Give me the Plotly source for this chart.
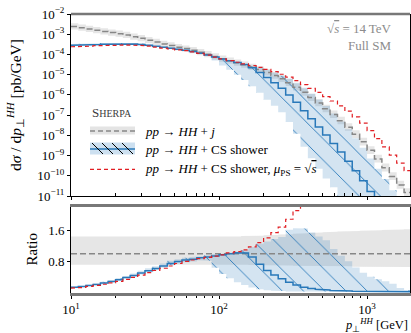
import plotly.graph_objects as go

# ---------------------------------------------------------------------------
# Histogram binning in p_T^HH [GeV]
# ---------------------------------------------------------------------------
pt_edges = [10.0, 11.2, 12.6, 14.1, 15.8, 17.8, 20.0, 22.4, 25.1, 28.2, 31.6,
            35.5, 39.8, 44.7, 50.1, 56.2, 63.1, 70.8, 79.4, 89.1, 100.0,
            112, 126, 141, 158, 178, 200, 224, 251, 282, 316, 355, 398, 447,
            501, 562, 631, 708, 794, 891, 1000, 1122, 1259, 1413, 1585, 1778,
            1995]

# pp -> HH + j  (fixed order), dsigma/dpT [pb/GeV]
hhj = [2.40e-3, 2.09e-3, 1.82e-3, 1.58e-3, 1.38e-3, 1.20e-3, 1.05e-3, 9.1e-4,
       7.6e-4, 6.3e-4, 5.1e-4, 4.1e-4, 3.3e-4, 2.75e-4, 2.29e-4, 1.95e-4,
       1.62e-4, 1.29e-4, 1.02e-4, 7.9e-5, 6.2e-5, 4.9e-5, 3.9e-5, 3.1e-5,
       2.40e-5, 1.78e-5, 1.29e-5, 9.1e-6, 6.2e-6, 4.0e-6, 2.40e-6, 1.35e-6,
       7.4e-7, 4.0e-7, 2.09e-7, 1.07e-7, 5.2e-8, 2.5e-8, 1.12e-8, 4.8e-9,
       1.82e-9, 6.8e-10, 2.5e-10, 9.3e-11, 3.5e-11, 1.48e-11]
# relative scale-variation envelope of pp -> HH + j
hhj_scale_up = [1.45, 1.44, 1.44, 1.44, 1.44, 1.44, 1.44, 1.44, 1.44, 1.44,
                1.44, 1.44, 1.44, 1.44, 1.44, 1.44, 1.45, 1.45, 1.45, 1.45,
                1.45, 1.45, 1.45, 1.46, 1.46, 1.47, 1.48, 1.49, 1.50, 1.51,
                1.52, 1.53, 1.54, 1.55, 1.56, 1.57, 1.58, 1.58, 1.59, 1.60,
                1.60, 1.61, 1.62, 1.62, 1.63, 1.64]
hhj_scale_down = [0.71, 0.71, 0.71, 0.71, 0.71, 0.71, 0.71, 0.71, 0.71, 0.71,
                  0.71, 0.71, 0.71, 0.71, 0.71, 0.71, 0.71, 0.71, 0.71, 0.71,
                  0.71, 0.71, 0.71, 0.71, 0.70, 0.70, 0.70, 0.69, 0.69, 0.69,
                  0.68, 0.68, 0.68, 0.68, 0.67, 0.67, 0.67, 0.67, 0.66, 0.66,
                  0.66, 0.66, 0.66, 0.66, 0.66, 0.65]

# pp -> HH + CS shower: central value and uncertainty envelope
cs_shower = [2.88e-4, 2.95e-4, 3.02e-4, 3.09e-4, 3.16e-4, 3.24e-4, 3.31e-4,
             3.39e-4, 3.24e-4, 3.09e-4, 2.82e-4, 2.51e-4, 2.24e-4, 2.04e-4,
             1.82e-4, 1.62e-4, 1.38e-4, 1.15e-4, 9.3e-5, 7.4e-5, 6.0e-5,
             4.9e-5, 4.0e-5, 3.16e-5, 2.19e-5, 1.29e-5, 7.2e-6, 4.0e-6,
             2.14e-6, 1.00e-6, 4.3e-7, 1.62e-7, 6.6e-8, 2.6e-8, 1.05e-8,
             4.0e-9, 1.51e-9, 5.2e-10, 1.78e-10, 5.6e-11, 1.66e-11, 5.0e-12,
             1.58e-12, 5.0e-13, 1.58e-13, 5.0e-14]
cs_shower_up = [3.31e-4, 3.39e-4, 3.47e-4, 3.55e-4, 3.63e-4, 3.72e-4, 3.80e-4,
                3.80e-4, 3.63e-4, 3.47e-4, 3.16e-4, 2.75e-4, 2.45e-4, 2.24e-4,
                1.95e-4, 1.74e-4, 1.48e-4, 1.20e-4, 9.8e-5, 7.8e-5, 6.2e-5,
                5.0e-5, 4.1e-5, 3.4e-5, 2.82e-5, 2.24e-5, 1.70e-5, 1.26e-5,
                8.9e-6, 6.5e-6, 4.0e-6, 2.24e-6, 1.15e-6, 5.8e-7, 2.82e-7,
                1.20e-7, 4.9e-8, 2.0e-8, 7.1e-9, 2.4e-9, 7.2e-10, 2.24e-10,
                6.9e-11, 1.95e-11, 3.5e-12, 7.4e-13]
cs_shower_down = [2.69e-4, 2.75e-4, 2.82e-4, 2.88e-4, 2.95e-4, 3.02e-4,
                  3.09e-4, 3.16e-4, 3.02e-4, 2.88e-4, 2.63e-4, 2.34e-4,
                  2.09e-4, 1.91e-4, 1.70e-4, 1.51e-4, 1.29e-4, 1.07e-4,
                  8.3e-5, 5.0e-5, 2.88e-5, 1.74e-5, 9.8e-6, 5.5e-6, 2.69e-6,
                  1.26e-6, 5.8e-7, 2.88e-7, 1.38e-7, 4.5e-8, 1.20e-8, 2.69e-9,
                  7.4e-10, 2.24e-10, 7.4e-11, 2.69e-11, 9.3e-12, 3.2e-12,
                  1.12e-12, 4.0e-13, 1.26e-13, 4.0e-14, 1.26e-14, 4.0e-15,
                  1.26e-15, 5.0e-16]

# pp -> HH + CS shower with mu_PS = sqrt(s)
cs_shower_sqrts = [2.40e-4, 2.45e-4, 2.57e-4, 2.69e-4, 2.75e-4, 2.82e-4,
                   2.88e-4, 2.95e-4, 2.88e-4, 2.75e-4, 2.57e-4, 2.29e-4,
                   2.04e-4, 1.86e-4, 1.70e-4, 1.55e-4, 1.35e-4, 1.12e-4,
                   9.2e-5, 7.4e-5, 6.0e-5, 5.0e-5, 4.1e-5, 3.4e-5, 2.82e-5,
                   2.29e-5, 1.82e-5, 1.41e-5, 1.05e-5, 7.6e-6, 5.1e-6, 3.2e-6,
                   2.09e-6, 1.32e-6, 8.3e-7, 5.0e-7, 2.88e-7, 1.58e-7, 8.1e-8,
                   4.0e-8, 1.70e-8, 6.8e-9, 2.69e-9, 1.05e-9, 4.2e-10,
                   1.78e-10]

# axis ticks
y_tick_vals = [1e-2, 1e-3, 1e-4, 1e-5, 1e-6, 1e-7, 1e-8, 1e-9, 1e-10, 1e-11]
y_tick_text = ["10<sup>\u22122</sup>", "10<sup>\u22123</sup>", "10<sup>\u22124</sup>",
               "10<sup>\u22125</sup>", "10<sup>\u22126</sup>", "10<sup>\u22127</sup>",
               "10<sup>\u22128</sup>", "10<sup>\u22129</sup>", "10<sup>\u221210</sup>",
               "10<sup>\u221211</sup>"]
x_tick_vals = [10, 100, 1000]
x_tick_text = ["10<sup>1</sup>", "10<sup>2</sup>", "10<sup>3</sup>"]
ratio_tick_vals = [0.8, 1.6]
ratio_tick_text = ["0.8", "1.6"]

nbin = len(pt_edges) - 1
for arr in (hhj, hhj_scale_up, hhj_scale_down, cs_shower, cs_shower_up,
            cs_shower_down, cs_shower_sqrts):
    assert len(arr) == nbin

# ---------------------------------------------------------------------------
# helpers
# ---------------------------------------------------------------------------
def steps(vals):
    xs, ys = [], []
    for i, v in enumerate(vals):
        xs += [pt_edges[i], pt_edges[i + 1]]
        ys += [v, v]
    return xs, ys


def band(lo, hi):
    xh, yh = steps(hi)
    xl, yl = steps(lo)
    return xh + xl[::-1], yh + yl[::-1]


def ratio(a, b):
    return [u / v for u, v in zip(a, b)]


hhj_up = [c * f for c, f in zip(hhj, hhj_scale_up)]
hhj_down = [c * f for c, f in zip(hhj, hhj_scale_down)]

GREY = "rgb(135,135,135)"
GREY_BAND = "rgba(205,205,205,0.5)"
BLUE = "rgb(40,120,185)"
BLUE_BAND = "rgba(40,120,185,0.2)"
RED = "rgb(225,30,35)"
FONT = "Liberation Serif"

hatch = dict(shape="\\", fgcolor=BLUE, fgopacity=1, bgcolor=BLUE_BAND,
             size=15, solidity=0.06)

fig = go.Figure()

for xa, ya, norm in (("x", "y", None), ("x2", "y2", hhj)):
    def sc(v):
        return v if norm is None else ratio(v, norm)

    bx, by = band(sc(hhj_down), sc(hhj_up))
    fig.add_trace(go.Scatter(x=bx, y=by, fill="toself", fillcolor=GREY_BAND,
                             line=dict(width=0), mode="lines", hoverinfo="skip",
                             xaxis=xa, yaxis=ya, showlegend=False))
    bx, by = band(sc(cs_shower_down), sc(cs_shower_up))
    fig.add_trace(go.Scatter(x=bx, y=by, fill="toself", fillcolor=BLUE_BAND,
                             fillpattern=hatch, line=dict(width=0),
                             mode="lines", hoverinfo="skip",
                             xaxis=xa, yaxis=ya, showlegend=False))
    sx, sy = steps(sc(hhj))
    fig.add_trace(go.Scatter(x=sx, y=sy, mode="lines",
                             line=dict(color=GREY, width=1.5, dash="6px,3px"),
                             xaxis=xa, yaxis=ya, showlegend=False))
    sx, sy = steps(sc(cs_shower))
    fig.add_trace(go.Scatter(x=sx, y=sy, mode="lines",
                             line=dict(color=BLUE, width=1.5),
                             xaxis=xa, yaxis=ya, showlegend=False))
    sx, sy = steps(sc(cs_shower_sqrts))
    fig.add_trace(go.Scatter(x=sx, y=sy, mode="lines",
                             line=dict(color=RED, width=1.2, dash="4px,3px"),
                             xaxis=xa, yaxis=ya, showlegend=False))

# ---------------------------------------------------------------------------
# layout
# ---------------------------------------------------------------------------
W, H = 411, 333
ML, MR, MT, MB = 71, 1, 14, 40
PW, PH = W - ML - MR, H - MT - MB


def px(x):
    return (x - ML) / PW


def py(y):
    return (H - MB - y) / PH


minor_x = [m * 10 ** d for d in (1, 2, 3) for m in range(2, 10) if m * 10 ** d < 2000]
tickfont = dict(family=FONT, size=13, color="black")

fig.update_layout(
    width=W, height=H, margin=dict(l=ML, r=MR, t=MT, b=MB),
    paper_bgcolor="white", plot_bgcolor="white",
    font=dict(family=FONT, size=12, color="black"),
    xaxis=dict(type="log", range=[1, 3.29], anchor="y", domain=[0, 1],
               showline=True, linecolor="black", linewidth=1,
               tickvals=x_tick_vals, ticktext=x_tick_text, showticklabels=False,
               ticks="outside", ticklen=3, tickcolor="black",
               minor=dict(tickvals=minor_x, ticks="inside", ticklen=3,
                          tickcolor="black", showgrid=False),
               showgrid=False, zeroline=False),
    yaxis=dict(type="log", range=[-11, -2], domain=[py(196), 1], anchor="x",
               showline=True, linecolor="black", linewidth=1, mirror=True,
               tickvals=y_tick_vals, ticktext=y_tick_text,
               ticks="outside", ticklen=3, tickcolor="black",
               tickfont=tickfont, showgrid=False, zeroline=False),
    xaxis2=dict(type="log", range=[1, 3.29], anchor="y2", domain=[0, 1],
                showline=True, linecolor="rgb(120,120,120)", linewidth=2.5,
                mirror=True, tickvals=x_tick_vals, ticktext=x_tick_text,
                ticks="outside", ticklen=3, tickcolor="black",
                minor=dict(tickvals=minor_x, ticks="outside", ticklen=2.5,
                           tickcolor="black", showgrid=False),
                tickfont=tickfont, showgrid=False, zeroline=False),
    yaxis2=dict(range=[-0.03, 2.22], domain=[0, py(207)], anchor="x2",
                showline=True, linecolor="black", linewidth=1, mirror=True,
                tickvals=ratio_tick_vals, ticktext=ratio_tick_text,
                ticks="outside", ticklen=3, tickcolor="black",
                tickfont=tickfont, showgrid=False, zeroline=False),
)

shapes = [
    # top frame of the spectrum panel
    dict(type="line", xref="paper", yref="paper", x0=0, x1=1, y0=1, y1=1,
         line=dict(color="rgb(120,120,120)", width=2.5)),
    # legend swatches
    dict(type="rect", xref="paper", yref="paper", x0=px(90), x1=px(135),
         y0=py(134.5), y1=py(126.5), fillcolor="rgb(228,228,228)",
         line=dict(width=0)),
    dict(type="line", xref="paper", yref="paper", x0=px(90), x1=px(135),
         y0=py(131), y1=py(131), line=dict(color=GREY, width=1.5, dash="5px,3px")),
    dict(type="rect", xref="paper", yref="paper", x0=px(90), x1=px(135),
         y0=py(154.5), y1=py(142.5), fillcolor="rgb(205,224,240)",
         line=dict(width=0)),
    dict(type="line", xref="paper", yref="paper", x0=px(90), x1=px(135),
         y0=py(149), y1=py(149), line=dict(color=BLUE, width=1.5)),
    dict(type="line", xref="paper", yref="paper", x0=px(90), x1=px(135),
         y0=py(169.3), y1=py(169.3), line=dict(color=RED, width=1.2, dash="4px,3px")),
]
for x0 in (92, 102, 112, 122):
    shapes.append(dict(type="line", xref="paper", yref="paper",
                       x0=px(x0), x1=px(x0 + 11), y0=py(143), y1=py(154),
                       line=dict(color="black", width=1)))

ann_font = dict(family=FONT, size=13, color="black")
annotations = [
    dict(text="d<i>\u03c3</i> / d<i>p</i><sub>\u22a5</sub><sup><i>HH</i></sup> [pb/GeV]",
         x=px(15), y=py(105), textangle=-90, font=dict(family=FONT, size=15.5)),
    dict(text="Ratio", x=px(31), y=py(249.5), textangle=-90,
         font=dict(family=FONT, size=15)),
    dict(text="<i>p</i><sub>\u22a5</sub><sup><i>HH</i></sup> [GeV]",
         x=1.0, y=py(324.5), xanchor="right", font=dict(family=FONT, size=12.5)),
    dict(text="\u221a<span style='text-decoration:overline'><i>s</i></span> = 14\u2009TeV",
         x=px(393), y=py(29), xanchor="right",
         font=dict(family=FONT, size=13, color="rgb(140,140,140)")),
    dict(text="Full SM", x=px(393), y=py(45), xanchor="right",
         font=dict(family=FONT, size=13, color="rgb(140,140,140)")),
    dict(text="S<span style='font-size:10px'>HERPA</span>", x=px(90), y=py(112.5),
         xanchor="left", font=dict(family=FONT, size=13, color="rgb(60,60,60)")),
    dict(text="<i>pp</i> \u2192 <i>HH</i> + <i>j</i>", x=px(143), y=py(131),
         xanchor="left", font=ann_font),
    dict(text="<i>pp</i> \u2192 <i>HH</i> + CS shower", x=px(143), y=py(149.3),
         xanchor="left", font=ann_font),
    dict(text="<i>pp</i> \u2192 <i>HH</i> + CS shower, <i>\u03bc</i><sub>PS</sub> = "
              "\u221a<span style='text-decoration:overline'><i>s</i></span>",
         x=px(143), y=py(169.3), xanchor="left", font=ann_font),
]
for a in annotations:
    a.setdefault("xref", "paper")
    a.setdefault("yref", "paper")
    a.setdefault("xanchor", "center")
    a.setdefault("yanchor", "middle")
    a["showarrow"] = False

fig.update_layout(shapes=shapes, annotations=annotations)
fig.write_html("out.html")
